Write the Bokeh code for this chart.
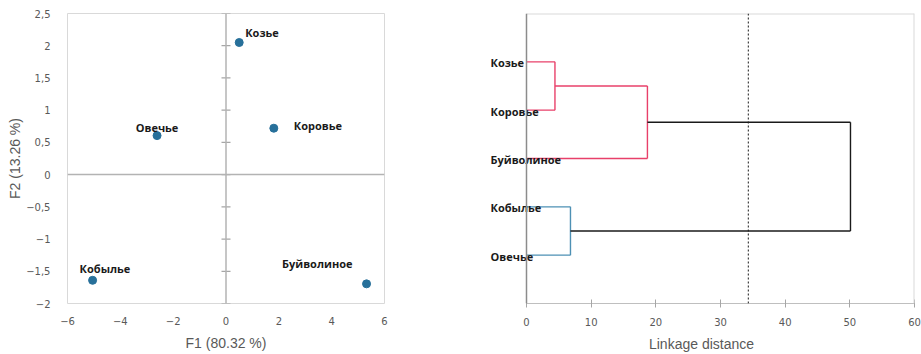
from bokeh.plotting import figure
from bokeh.layouts import row
from bokeh.models import Span, FixedTicker, CustomJSTickFormatter, ColumnDataSource
from bokeh.core.properties import value
from bokeh.embed import file_html
from bokeh.resources import INLINE

# ---------------- data ----------------
# PCA scatter
samples = ["Козье", "Коровье", "Овечье", "Кобылье", "Буйволиное"]
f1 = [0.50, 1.81, -2.61, -5.05, 5.32]
f2 = [2.05, 0.72, 0.605, -1.64, -1.695]
x_ticks = [-6, -4, -2, 0, 2, 4, 6]
y_ticks = [-2, -1.5, -1, -0.5, 0, 0.5, 1, 1.5, 2, 2.5]

# dendrogram (leaf order top to bottom, scipy-style merges)
leaves = ["Козье", "Коровье", "Буйволиное", "Кобылье", "Овечье"]
merge_a = [0, 3, 5, 6]
merge_b = [1, 4, 2, 7]
merge_dist = [4.4, 6.8, 18.7, 50.1]
cut_level = 34.3
dist_ticks = [0, 10, 20, 30, 40, 50, 60]
dist_max = 60

# ---------------- styles ----------------
TICK_FONT = "DejaVu Sans"
TITLE_FONT = "Liberation Sans"
LABEL_FONT = "Open Sans"
GRAY_TXT = "#595959"
BORDER = "#d9d9d9"
DOT = "#27709a"
label_align = ["left", "left", "center", "left", "right"]
label_dx = [6, 20, 0, -13, -14]
label_dy = [-10, -3, -8.5, -11.7, -20]
merge_colors = ["#e8406a", "#4d90b4", "#e8406a", "#1a1a1a"]
label_pad = 5.876   # room left of 0 for the leaf names (in distance units)

# ---------------- left: PCA plot ----------------
p1 = figure(frame_width=317, frame_height=290, x_range=(-6, 6), y_range=(-2, 2.5),
            output_backend="svg", toolbar_location=None,
            min_border_left=67, min_border_right=24, min_border_top=13, min_border_bottom=40)
p1.outline_line_color = BORDER
p1.grid.visible = False
p1.background_fill_color = "white"
p1.border_fill_color = "white"

fmt = CustomJSTickFormatter(code="""
    const s = Math.abs(tick).toString().replace('.', ',');
    return (tick < 0 ? '\u2212' : '') + s;
""")
for ax, ticks in ((p1.xaxis, x_ticks), (p1.yaxis, y_ticks)):
    ax.ticker = FixedTicker(ticks=ticks)
    ax.formatter = fmt
    ax.axis_line_color = None
    ax.major_tick_line_color = None
    ax.minor_tick_line_color = None
    ax.major_label_text_font = TICK_FONT
    ax.major_label_text_font_size = "10px"
    ax.major_label_text_color = GRAY_TXT
    ax.axis_label_text_font = TITLE_FONT
    ax.axis_label_text_font_size = "14px"
    ax.axis_label_text_font_style = "normal"
    ax.axis_label_text_color = GRAY_TXT
p1.xaxis.major_label_standoff = 7
p1.xaxis.axis_label_standoff = 7
p1.yaxis.major_label_standoff = 11
p1.yaxis.axis_label_standoff = 0
p1.xaxis.axis_label = "F1 (80.32 %)"
p1.yaxis.axis_label = "F2 (13.26 %)"

p1.add_layout(Span(location=0, dimension="height", line_color="#b3b3b3", line_width=1.5))
p1.add_layout(Span(location=0, dimension="width", line_color="#b3b3b3", line_width=1.5))
p1.scatter(x=[0] * len(y_ticks), y=y_ticks, marker="dash", size=9,
           line_color="#a6a6a6", line_width=1.2)

src = ColumnDataSource(dict(x=f1, y=f2, t=samples, a=label_align, dx=label_dx, dy=label_dy))
p1.scatter("x", "y", source=src, size=8, fill_color=DOT, line_color=DOT)
p1.text("x", "y", text="t", source=src, text_align="a", x_offset="dx", y_offset="dy",
        text_baseline="middle", text_font=value(LABEL_FONT), text_font_style="bold",
        text_font_size="11px", text_color="#1a1a1a")

# ---------------- right: dendrogram ----------------
n = len(leaves)
p2 = figure(frame_width=426, frame_height=290, x_range=(-label_pad, dist_max), y_range=(0, n + 1),
            output_backend="svg", toolbar_location=None,
            min_border_left=80, min_border_right=7, min_border_top=13, min_border_bottom=40)
p2.outline_line_color = None
p2.grid.visible = False
p2.background_fill_color = "white"
p2.border_fill_color = "white"
p2.yaxis.visible = False

xa = p2.xaxis
xa.ticker = FixedTicker(ticks=dist_ticks)
xa.bounds = (0, dist_max)
xa.axis_line_color = "#bfbfbf"
xa.major_tick_line_color = "#a6a6a6"
xa.major_tick_in = 4
xa.major_tick_out = 4
xa.minor_tick_line_color = None
xa.major_label_text_font = TICK_FONT
xa.major_label_text_font_size = "10px"
xa.major_label_text_color = GRAY_TXT
xa.major_label_standoff = 10
xa.axis_label = "Linkage distance"
xa.axis_label_text_font = TITLE_FONT
xa.axis_label_text_font_size = "14px"
xa.axis_label_text_font_style = "normal"
xa.axis_label_text_color = GRAY_TXT
xa.axis_label_standoff = 7

# plot-area border (top and right) and the vertical axis line at 0
p2.segment(x0=[0], y0=[n + 1], x1=[dist_max], y1=[n + 1], line_color=BORDER, line_width=2)
p2.add_layout(Span(location=dist_max, dimension="height", line_color=BORDER, line_width=2))
p2.add_layout(Span(location=0, dimension="height", line_color="#8c8c8c", line_width=1.5))

# node positions
node_x = [0.0] * n
node_y = [float(n - i) for i in range(n)]
xs, ys, cols = [], [], []
for k, (a, b, d) in enumerate(zip(merge_a, merge_b, merge_dist)):
    c = merge_colors[k]
    ya_, yb_ = node_y[a], node_y[b]
    xs += [[node_x[a], d], [node_x[b], d], [d, d]]
    ys += [[ya_, ya_], [yb_, yb_], [ya_, yb_]]
    cols += [c, c, c]
    node_x.append(d)
    node_y.append((ya_ + yb_) / 2)
p2.multi_line(xs=xs, ys=ys, line_color=cols, line_width=1.4)

p2.add_layout(Span(location=cut_level, dimension="height", line_color="#1a1a1a",
                   line_width=1, line_dash="2 2"))

leaf_src = ColumnDataSource(dict(x=[-label_pad] * n, y=node_y[:n], t=leaves))
p2.text("x", "y", text="t", source=leaf_src, x_offset=2, y_offset=1,
        text_align="left", text_baseline="middle", text_font=value(LABEL_FONT),
        text_font_style="bold", text_font_size="11px", text_color="#1a1a1a")

layout = row(p1, p2)
open("out.html", "w").write(file_html(layout, INLINE))
